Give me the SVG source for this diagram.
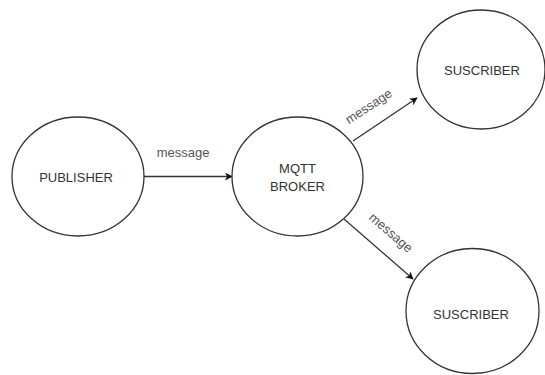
<svg xmlns="http://www.w3.org/2000/svg" width="545" height="375" viewBox="0 0 545 375">
<style>
.node{fill:#fff;stroke:#333;stroke-width:1.3}
.t{font-family:"Liberation Sans",Arial,sans-serif;font-size:13px;fill:#333;text-anchor:middle;dominant-baseline:central}
.lbl{font-family:"Liberation Sans",Arial,sans-serif;font-size:13px;fill:#555;text-anchor:middle}
.edge{stroke:#333;stroke-width:1.3;fill:none;marker-end:url(#ah)}
</style>
<defs>
<marker id="ah" viewBox="0 0 10 10" refX="9" refY="5" markerWidth="8" markerHeight="8" markerUnits="userSpaceOnUse" orient="auto">
<path d="M0,0 L10,5 L0,10 L3,5 Z" fill="#111"/>
</marker>
</defs>
<rect width="545" height="375" fill="#fff"/>
<g id="connectors">
<line class="edge" x1="144" y1="176.5" x2="232" y2="176.5"/>
<line class="edge" x1="353" y1="141" x2="417" y2="98"/>
<line class="edge" x1="344" y1="219" x2="413" y2="279"/>
<text class="lbl" x="183" y="157">message</text>
<text class="lbl" x="0" y="0" transform="translate(371,110) rotate(-33.5)">message</text>
<text class="lbl" x="0" y="0" transform="translate(388,236) rotate(41)">message</text>
</g>
<g id="publisher">
<ellipse class="node" cx="78" cy="176.5" rx="66" ry="59.5"/>
<text class="t" x="76" y="177">PUBLISHER</text>
</g>
<g id="broker">
<ellipse class="node" cx="297.5" cy="176.5" rx="65.5" ry="59.5"/>
<text class="t" x="297.5" y="168">MQTT</text>
<text class="t" x="297.5" y="186">BROKER</text>
</g>
<g id="subscriber1">
<ellipse class="node" cx="481" cy="69.5" rx="64" ry="59.5"/>
<text class="t" x="482" y="70">SUSCRIBER</text>
</g>
<g id="subscriber2">
<ellipse class="node" cx="472.5" cy="311" rx="66.5" ry="62.5"/>
<text class="t" x="471" y="314">SUSCRIBER</text>
</g>
</svg>
